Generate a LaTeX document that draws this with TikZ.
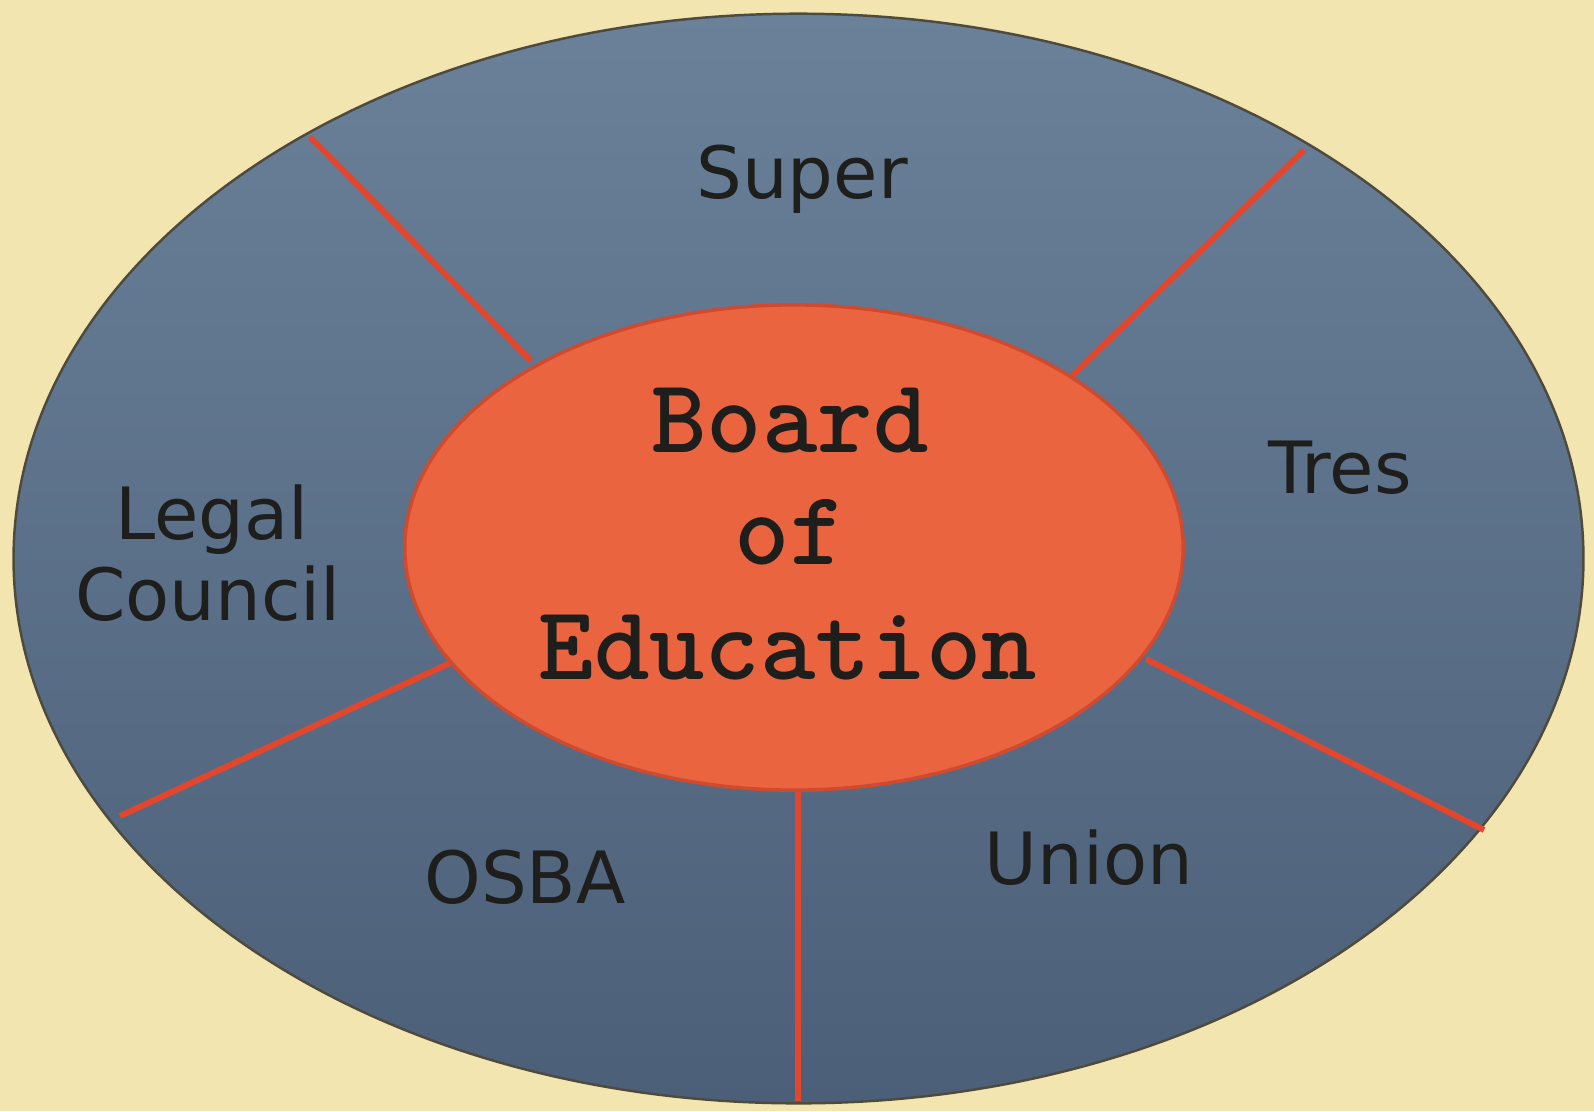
\documentclass[tikz,border=0pt]{standalone}
\usepackage{fontspec}
\setmainfont{DejaVu Sans}
\newfontfamily\boardfont{lmmonolt10-bold.otf}
\usetikzlibrary{shapes.geometric}
\definecolor{cream}{HTML}{F2E5B0}
\definecolor{bluetop}{HTML}{6A8199}
\definecolor{bluebot}{HTML}{4C5F78}
\definecolor{redfill}{HTML}{EB6440}
\definecolor{rededge}{HTML}{CF4A2E}
\definecolor{redline}{HTML}{E2472E}
\definecolor{textdark}{HTML}{1E1E1C}
\tikzset{
  label/.style={anchor=base, text=textdark, font=\fontsize{20.5}{23.5}\selectfont, align=center},
  boardtext/.style={anchor=base, text=textdark, font=\boardfont\fontsize{30}{33}\selectfont},
  divider/.style={draw=redline, line width=1.7pt},
}
\begin{document}
\begin{tikzpicture}[x=0.01cm, y=-0.01cm]
\fill[cream] (0,0) rectangle (1594,1111);
\useasboundingbox (0,0) rectangle (1594,1111);
% outer ellipse
\node[ellipse, top color=bluetop, bottom color=bluebot, draw=black!80!yellow, line width=0.7pt,
      minimum width=15.69cm, minimum height=10.89cm, inner sep=0pt] (outer) at (798.5,558.5) {};
% divider end points
\coordinate (a1) at (531,361);  \coordinate (b1) at (310,137);
\coordinate (a2) at (1072,376); \coordinate (b2) at (1304,150);
\coordinate (a3) at (1146,659); \coordinate (b3) at (1484,830);
\coordinate (a4) at (798,786);  \coordinate (b4) at (798,1101);
\coordinate (a5) at (450,663);  \coordinate (b5) at (120,816);
\draw[divider] (a1) -- (b1);
\draw[divider] (a2) -- (b2);
\draw[divider] (a3) -- (b3);
\draw[divider] (a4) -- (b4);
\draw[divider] (a5) -- (b5);
% inner ellipse
\node[ellipse, fill=redfill, draw=rededge, line width=1pt,
      minimum width=7.78cm, minimum height=4.85cm, inner sep=0pt] (board) at (794,547.5) {};
% centre text
\node[boardtext] (t1) at (790,452) {Board};
\node[boardtext] (t2) at (790,564) {of};
\node[boardtext] (t3) at (788,679) {Education};
% outer labels
\node[label] (super) at (802,198) {Super};
\node[label] (tres) at (1340,493) {Tres};
\node[label] (legal) at (212,539) {Legal};
\node[label] (council) at (208,620) {Council};
\node[label] (osba) at (525,903) {OSBA};
\node[label] (union) at (1089,884) {Union};
\end{tikzpicture}
\end{document}
